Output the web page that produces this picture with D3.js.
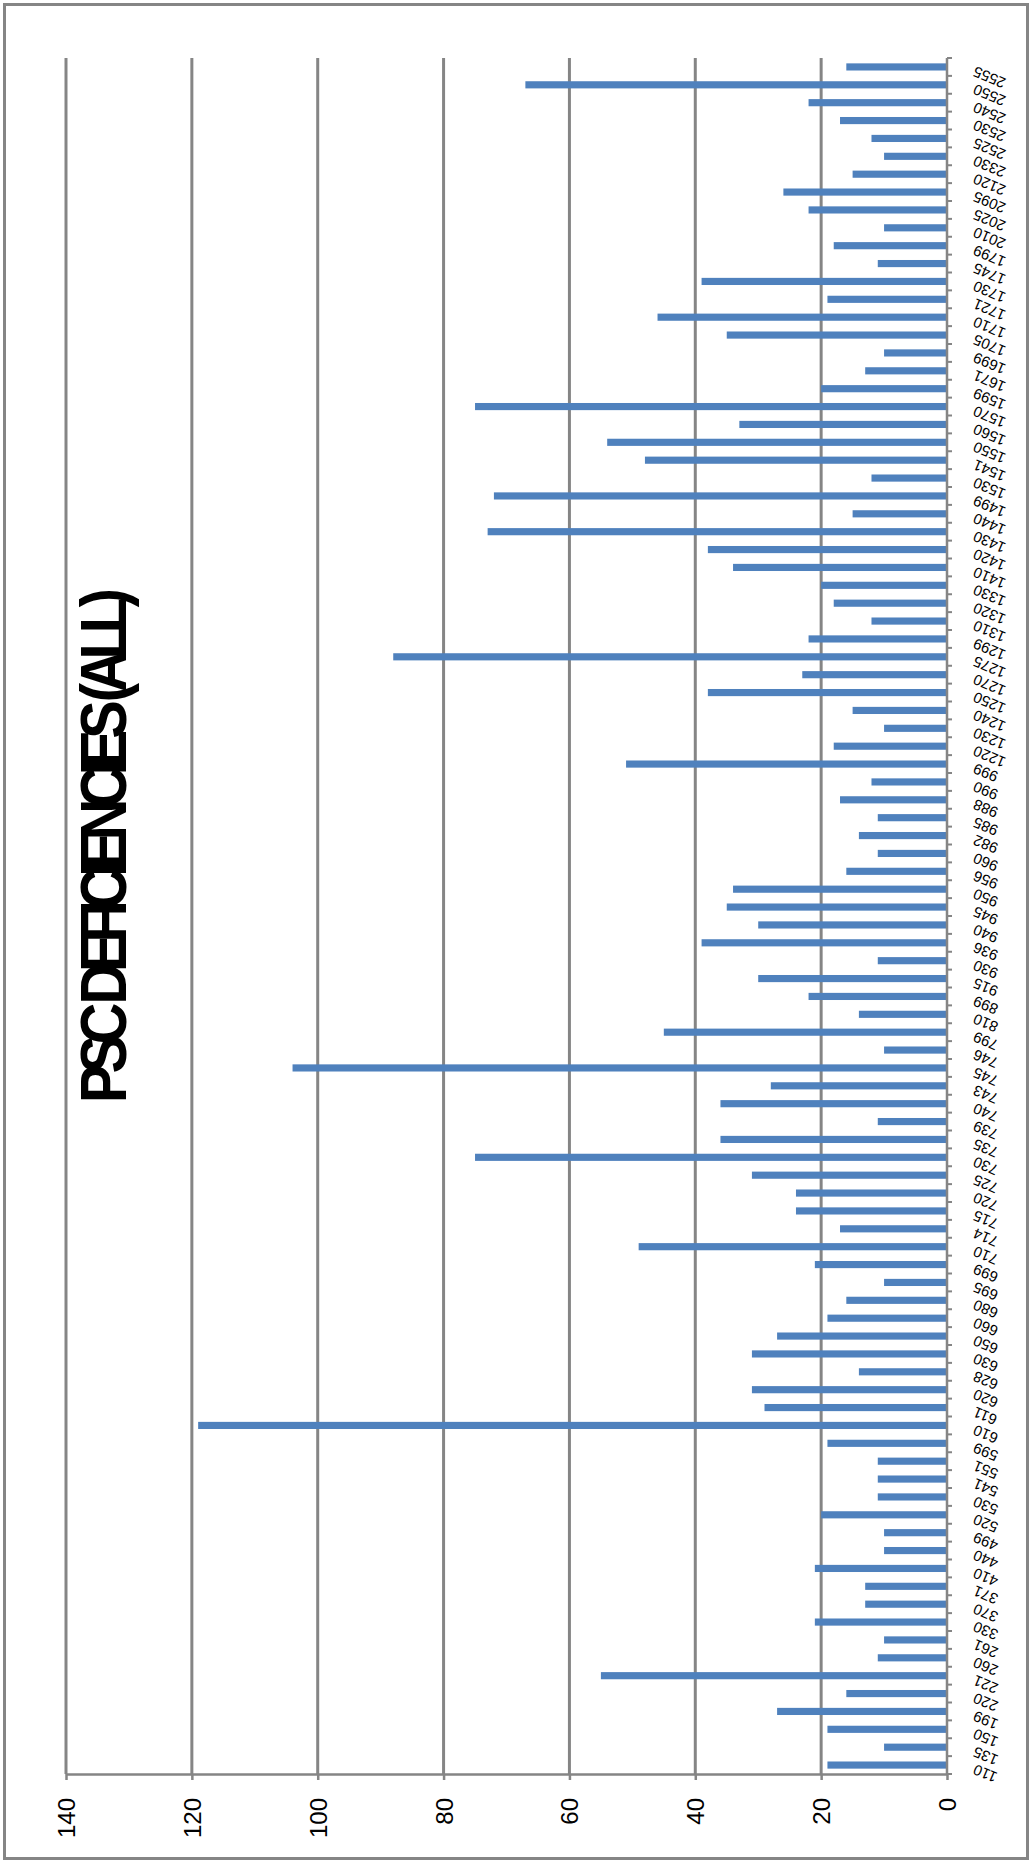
<!DOCTYPE html>
<html>
<head>
<meta charset="utf-8">
<script src="https://cdn.jsdelivr.net/npm/d3@7"></script>
<style>
  html, body { margin: 0; padding: 0; background: #fff; }
  svg { display: block; }
</style>
</head>
<body>
<svg id="chart" width="1032" height="1865"></svg>
<script>
// Vessel deficiency codes, in ascending order
const categories = [
  "110","135","150","199","220","221","260","261","330","370","371","410","440","499",
  "520","530","541","551","599","610","611","620","628","630","650","660","680","695",
  "699","710","714","715","720","725","730","735","739","740","743","745","746","799",
  "810","899","915","930","936","940","945","950","956","960","982","985","988","990",
  "999","1220","1230","1240","1250","1270","1275","1299","1310","1320","1330","1410",
  "1420","1430","1440","1499","1530","1541","1550","1560","1570","1599","1671","1699",
  "1705","1710","1721","1730","1745","1799","2010","2025","2095","2120","2330","2525",
  "2530","2540","2550","2555"
];

// Number of deficiencies recorded for each code
const counts = [
  19,10,19,27,16,55,11,10,21,13,13,21,10,10,
  20,11,11,11,19,119,29,31,14,31,27,19,16,10,
  21,49,17,24,24,31,75,36,11,36,28,104,10,45,
  14,22,30,11,39,30,35,34,16,11,14,11,17,12,
  51,18,10,15,38,23,88,22,12,18,20,34,
  38,73,15,72,12,48,54,33,75,20,13,10,
  35,46,19,39,11,18,10,22,26,15,10,12,
  17,22,67,16
];

const valueTicks = [0, 20, 40, 60, 80, 100, 120, 140];
const titleText = "PSC DEFICIENCIES (ALL)";

const svg = d3.select("#chart");
const W = 1032, H = 1865;

const plot = { left: 66, right: 947, top: 58, bottom: 1774 };
const axisColor = "#858585";
const barColor = "#4F81BD";

// Outer frame
svg.append("rect")
  .attr("x", 4.5).attr("y", 4.5)
  .attr("width", W - 9).attr("height", H - 11)
  .attr("fill", "#fff")
  .attr("stroke", axisColor)
  .attr("stroke-width", 3);

// Value scale: zero on the right, growing to the left
const x = d3.scaleLinear().domain([0, 140]).range([plot.right, plot.left]);

// Category scale: first code at the bottom
const y = d3.scaleBand()
  .domain(categories.slice().reverse())
  .range([plot.top, plot.bottom])
  .paddingInner(0.6)
  .paddingOuter(0.3);

// Gridlines
svg.append("g")
  .selectAll("line")
  .data(valueTicks.filter(v => v > 0))
  .join("line")
  .attr("x1", d => x(d)).attr("x2", d => x(d))
  .attr("y1", plot.top).attr("y2", plot.bottom)
  .attr("stroke", axisColor)
  .attr("stroke-width", 3);

// Bars
svg.append("g")
  .selectAll("rect")
  .data(categories.map((c, i) => ({ c, v: counts[i] })))
  .join("rect")
  .attr("x", d => x(d.v))
  .attr("y", d => y(d.c))
  .attr("width", d => x(0) - x(d.v))
  .attr("height", y.bandwidth())
  .attr("fill", barColor);

// Value axis along the bottom
const xAxis = d3.axisBottom(x).tickValues(valueTicks).tickSize(6).tickSizeOuter(0);
const gx = svg.append("g")
  .attr("transform", `translate(0,${plot.bottom})`)
  .call(xAxis);
gx.select(".domain").attr("stroke", axisColor).attr("stroke-width", 2.5);
gx.selectAll(".tick line").attr("stroke", axisColor).attr("stroke-width", 2.5);
gx.selectAll(".tick text")
  .attr("fill", "#000")
  .attr("font-family", "'Liberation Sans', Arial, sans-serif")
  .attr("font-size", 24)
  .attr("text-anchor", "end")
  .attr("dominant-baseline", "central")
  .attr("y", 0)
  .attr("dy", null)
  .attr("transform", "translate(0,24) rotate(-90)");

// Category axis line on the right, ticks between categories
const step = y.step();
const boundaries = d3.range(categories.length + 1).map(i => plot.top + i * step);
const gy = svg.append("g");
gy.append("line")
  .attr("x1", plot.right).attr("x2", plot.right)
  .attr("y1", plot.top).attr("y2", plot.bottom)
  .attr("stroke", axisColor).attr("stroke-width", 2.5);
gy.selectAll("line.tick")
  .data(boundaries)
  .join("line")
  .attr("class", "tick")
  .attr("x1", plot.right).attr("x2", plot.right + 5)
  .attr("y1", d => d).attr("y2", d => d)
  .attr("stroke", axisColor).attr("stroke-width", 2);

// Category labels, slanted and upside down
gy.selectAll("text")
  .data(categories)
  .join("text")
  .attr("transform", d => `translate(${plot.right + 27},${y(d) + y.bandwidth() / 2 + 4}) rotate(203)`)
  .attr("text-anchor", "end")
  .attr("dominant-baseline", "central")
  .attr("font-family", "'Liberation Sans', Arial, sans-serif")
  .attr("font-size", 15)
  .attr("fill", "#000")
  .text(d => d);

// Title, running up the left side of the plot, tightly set
svg.append("text")
  .attr("transform", "translate(126,850) rotate(-90)")
  .attr("text-anchor", "middle")
  .attr("font-family", "'Liberation Sans', Arial, sans-serif")
  .attr("font-weight", "bold")
  .attr("font-size", 64)
  .attr("letter-spacing", -10)
  .attr("textLength", 506)
  .attr("lengthAdjust", "spacingAndGlyphs")
  .attr("fill", "#000")
  .text(titleText);
</script>
</body>
</html>
